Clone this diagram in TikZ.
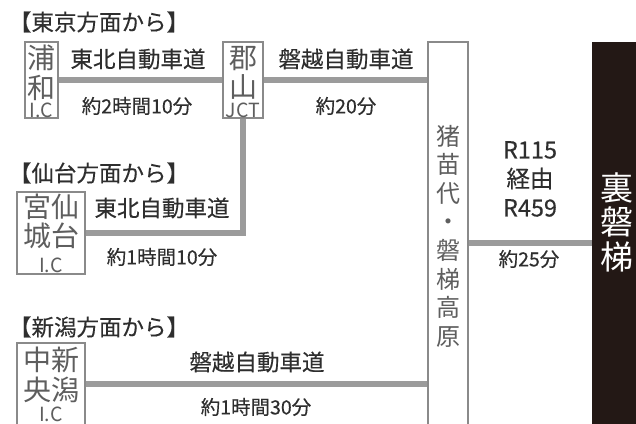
\documentclass[tikz,border=0pt]{standalone}
\usepackage{fontspec}
\setmainfont{Noto Sans CJK JP}
\newfontfamily\medfont{Noto Sans CJK JP}[FakeBold=0.35]
\definecolor{roadgray}{HTML}{9B9B9B}
\definecolor{boxgray}{HTML}{8A8A8A}
\definecolor{boxtext}{HTML}{5E5E5E}
\definecolor{headc}{HTML}{2E2E2E}
\definecolor{darkbox}{HTML}{231815}
\tikzset{
  road/.style={draw=roadgray, line width=6pt},
  sbox/.style={draw=boxgray, line width=1.3pt, fill=white, inner sep=0pt},
  head/.style={font=\medfont\fontsize{22.5}{25}\selectfont, text=headc, inner sep=0pt},
  rname/.style={font=\medfont\fontsize{22.5}{24}\selectfont, text=headc, inner sep=0pt},
  rtime/.style={font=\medfont\fontsize{19.5}{21}\selectfont, text=headc, inner sep=0pt},
  bchar/.style={font=\fontsize{28}{29.5}\selectfont, text=boxtext, inner sep=0pt, align=center},
  ic/.style={font=\fontsize{19.5}{20}\selectfont, text=boxtext, inner sep=0pt},
}
\begin{document}
\begin{tikzpicture}[x=1pt,y=-1pt]
\useasboundingbox (0,0) rectangle (636,423);
% boxes (nodes)
\node[sbox, minimum width=33pt, minimum height=76pt] (urawa) at (41.5,80) {};
\node[sbox, minimum width=40pt, minimum height=76pt] (koriyama) at (243,80) {};
\node[sbox, minimum width=68pt, minimum height=82pt] (sendai) at (51,233) {};
\node[sbox, minimum width=68pt, minimum height=82pt] (niigata) at (51,384) {};
\node[sbox, minimum width=40pt, minimum height=402pt] (inawa) at (448,243) {};
\node[fill=darkbox, inner sep=0pt, minimum width=60pt, minimum height=402pt] (ura) at (622,243) {};
% roads
\draw[road] (urawa.east) -- (koriyama.west);
\draw[road] (koriyama.east) -- (inawa.west |- koriyama.east);
\draw[road] (koriyama.south) |- (sendai.east);
\draw[road] (inawa.east) -- (ura.west);
\draw[road] (niigata.east) -- (inawa.west |- niigata.east);
% headings
\node[head] (h1) at (99,22) {【東京方面から】};
\node[head] (h2) at (99,173) {【仙台方面から】};
\node[head] (h3) at (99,327) {【新潟方面から】};
% box texts
\node[bchar] (t-urawa) at (41.5,73) {浦\\和};
\node[ic] (ic-urawa) at (41.5,110) {I.C};
\node[bchar] (t-kori) at (243,73) {郡\\山};
\node[ic] (ic-kori) at (243,110) {JCT};
\node[bchar] (t-sendai) at (51,221.5) {宮仙\\城台};
\node[ic] (ic-sendai) at (51,265) {I.C};
\node[bchar] (t-niigata) at (51,375) {中新\\央潟};
\node[ic] (ic-niigata) at (51,414) {I.C};
\node[font=\fontsize{24}{28.6}\selectfont, text=boxtext, inner sep=0pt, align=center] (t-inawa) at (448,236) {猪\\苗\\代\\・\\磐\\梯\\高\\原};
\node[font=\fontsize{33}{34.5}\selectfont, text=white, inner sep=0pt, align=center, anchor=west] (t-ura) at (600,222) {裏\\磐\\梯};
% road labels
\node[rname] (n1) at (138,59) {東北自動車道};
\node[rtime] (m1) at (137,106) {約2時間10分};
\node[rname] (n2) at (346,59) {磐越自動車道};
\node[rtime] (m2) at (346,106) {約20分};
\node[rname] (n3) at (162,208) {東北自動車道};
\node[rtime] (m3) at (162,257) {約1時間10分};
\node[rname] (n4) at (257,362) {磐越自動車道};
\node[rtime] (m4) at (256,407) {約1時間30分};
\node[font=\medfont\fontsize{23.5}{29}\selectfont, text=headc, inner sep=0pt, align=center] (n5) at (530,179) {R115\\経由\\R459};
\node[rtime] (m5) at (529,259) {約25分};
\end{tikzpicture}
\end{document}
